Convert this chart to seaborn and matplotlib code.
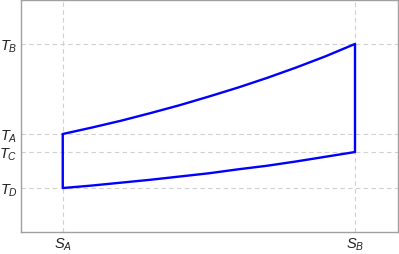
import matplotlib
matplotlib.use("Agg")
import matplotlib.pyplot as plt
import seaborn as sns
import pandas as pd

# State values
s_labels = ["$S_A$", "$S_B$"]
s_values = [1.0, 8.0]
t_labels = ["$T_D$", "$T_C$", "$T_A$", "$T_B$"]
t_values = [1.0, 2.0, 2.5, 5.0]

# Upper curve A -> B
s_upper = [1.0, 1.7, 2.4, 3.1, 3.8, 4.5, 5.2, 5.9, 6.6, 7.3, 8.0]
t_upper = [2.5, 2.68, 2.87, 3.08, 3.30, 3.54, 3.79, 4.06, 4.35, 4.66, 5.0]
# Lower curve C -> D
s_lower = [8.0, 7.3, 6.6, 5.9, 5.2, 4.5, 3.8, 3.1, 2.4, 1.7, 1.0]
t_lower = [2.0, 1.87, 1.74, 1.62, 1.52, 1.41, 1.32, 1.23, 1.15, 1.07, 1.0]

s_cycle = s_upper + s_lower + [s_upper[0]]
t_cycle = t_upper + t_lower + [t_upper[0]]
df = pd.DataFrame({"S": s_cycle, "T": t_cycle})

sns.set_theme(style="white")
plt.rcParams["mathtext.fontset"] = "custom"
plt.rcParams["mathtext.it"] = "Liberation Sans:italic"
plt.rcParams["mathtext.rm"] = "Liberation Sans"

fig = plt.figure(figsize=(3.99, 2.55), dpi=100)
ax = fig.add_axes([21/399, 22/255, 377/399, 232/255])

sns.lineplot(data=df, x="S", y="T", sort=False, estimator=None,
             color="#0000ff", linewidth=1.7, ax=ax)

ax.set_xlim(0, 9.03)
ax.set_ylim(-0.22, 6.22)
ax.set_xticks(s_values)
ax.set_xticklabels(s_labels, fontsize=10.5)
ax.set_yticks(t_values)
ax.set_yticklabels(t_labels, fontsize=10.5)
ax.set_xlabel("")
ax.set_ylabel("")
ax.tick_params(axis="both", length=0, pad=2.5, colors="#222222")
ax.grid(True, color="#d0d0d0", linestyle=(0, (4, 3)), linewidth=0.8)
ax.set_axisbelow(True)
for sp in ax.spines.values():
    sp.set_visible(True)
    sp.set_color("#a0a0a0")
    sp.set_linewidth(1.0)

fig.savefig("out.png", dpi=100)
